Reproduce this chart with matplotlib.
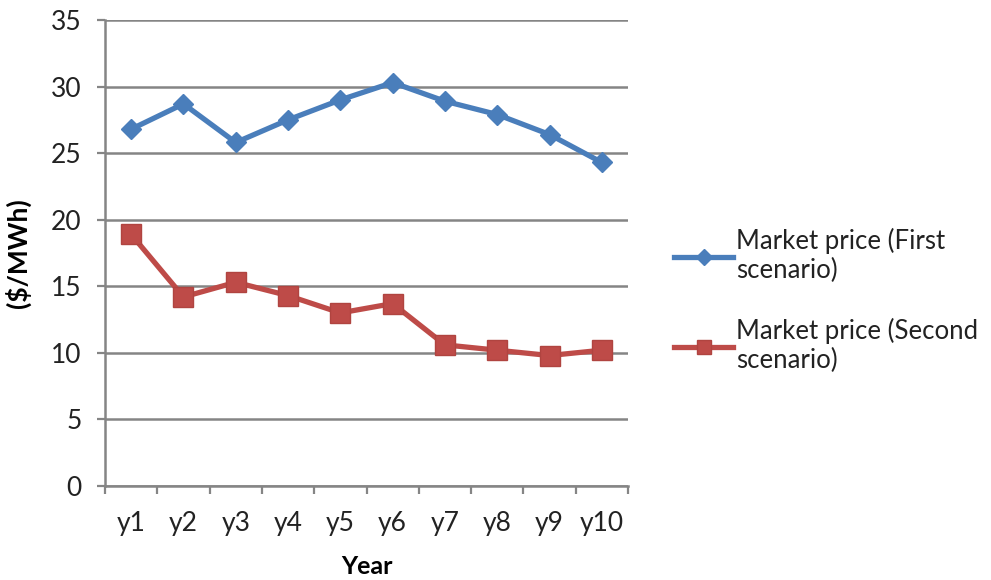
import matplotlib
matplotlib.use("Agg")
import matplotlib.pyplot as plt
import numpy as np

categories = ["y1", "y2", "y3", "y4", "y5", "y6", "y7", "y8", "y9", "y10"]
first_scenario = [26.8, 28.7, 25.8, 27.5, 29.0, 30.3, 28.9, 27.9, 26.4, 24.3]
second_scenario = [18.9, 14.2, 15.3, 14.3, 13.0, 13.7, 10.6, 10.2, 9.8, 10.2]
yticks = [0, 5, 10, 15, 20, 25, 30, 35]

plt.rcParams['font.family'] = ['Lato', 'DejaVu Sans']

fig = plt.figure(figsize=(9.91, 5.8), dpi=100)
ax = fig.add_axes([105/991, 1-486/580, (628-105)/991, (486-20)/580])

x = np.arange(len(categories))
blue = "#4A7EBB"
red = "#BE4B48"
l1, = ax.plot(x, first_scenario, color=blue, lw=3.8, marker="D", markersize=10.5,
              markerfacecolor=blue, markeredgecolor=blue, label="Market price (First\nscenario)")
l2, = ax.plot(x, second_scenario, color=red, lw=3.8, marker="s", markersize=14,
              markerfacecolor=red, markeredgecolor="#B04440", label="Market price (Second\nscenario)")

grid_c = "#858585"
ax.set_xlim(-0.5, 9.5)
ax.set_ylim(0, 35)
ax.set_yticks(yticks)
ax.yaxis.grid(True, color=grid_c, lw=1.8)
ax.set_axisbelow(True)
for s in ["top", "right"]:
    ax.spines[s].set_visible(False)
for s in ["left", "bottom"]:
    ax.spines[s].set_color(grid_c)
    ax.spines[s].set_linewidth(1.8)

ax.set_xticks(x)
ax.set_xticklabels(categories)
ax.set_xticks(np.arange(-0.5, 10, 1), minor=True)
ax.tick_params(axis="x", which="major", length=0, pad=18, labelsize=19, colors="#222222")
ax.tick_params(axis="x", which="minor", length=6, width=1.6, color=grid_c, direction="out")
ax.tick_params(axis="y", length=6, width=1.6, color=grid_c, pad=11, labelsize=19, labelcolor="#222222")

ax.set_xlabel("Year", fontsize=18, fontweight="bold", labelpad=14)
ax.set_ylabel("($/MWh)", fontsize=19, fontweight="bold", labelpad=14)

leg = ax.legend(handles=[l1, l2], loc="upper left", bbox_to_anchor=(664/991, 1-218/580),
                bbox_transform=fig.transFigure, frameon=False, fontsize=18.5,
                borderaxespad=0, handlelength=2.3, handletextpad=0.1,
                labelspacing=1.35, markerscale=0.75)
for t in leg.get_texts():
    t.set_color("#222222")
    t.set_linespacing(1.2)

fig.savefig("out.png", dpi=100)
